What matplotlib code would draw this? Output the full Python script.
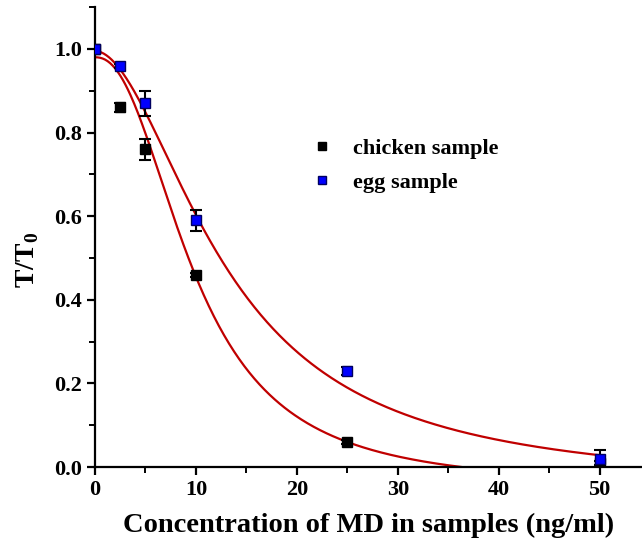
import matplotlib.pyplot as plt
import numpy as np
from matplotlib.ticker import MultipleLocator

plt.rcParams['font.family'] = 'Liberation Serif'
plt.rcParams['font.weight'] = 'bold'
plt.rcParams['mathtext.fontset'] = 'custom'
plt.rcParams['mathtext.rm'] = 'Liberation Serif:bold'
plt.rcParams['mathtext.bf'] = 'Liberation Serif:bold'

conc = [0, 2.5, 5, 10, 25, 50]
chicken = [1.0, 0.86, 0.76, 0.46, 0.06, 0.01]
chicken_err = [0.005, 0.01, 0.025, 0.005, 0.005, 0.005]
egg = [1.0, 0.96, 0.87, 0.59, 0.23, 0.02]
egg_err = [0.005, 0.005, 0.03, 0.025, 0.01, 0.02]

# logistic fit parameters (A1, A2, x0, p)
chicken_fit = (0.98, -0.05, 9.83, 2.275)
egg_fit = (0.995, -0.05, 13.12, 1.878)


def logistic(x, a1, a2, x0, p):
    return a2 + (a1 - a2) / (1 + (x / x0) ** p)


fig = plt.figure(figsize=(6.42, 5.45), dpi=100)
ax = fig.add_axes([0.148, 0.143, 0.852, 0.844])

xs = np.linspace(0, 50, 400)
ax.plot(xs, logistic(xs, *chicken_fit), color='#c00000', lw=1.6, zorder=2)
ax.plot(xs, logistic(xs, *egg_fit), color='#c00000', lw=1.6, zorder=2)

ch = ax.errorbar(conc, chicken, yerr=chicken_err, fmt='s', color='black', ms=7.5,
                 ecolor='black', elinewidth=1.5, capsize=4, capthick=1.5, zorder=3)
eg = ax.errorbar(conc, egg, yerr=egg_err, fmt='s', color='#0000ff', mec='#000060',
                 ms=7.5, ecolor='black', elinewidth=1.5, capsize=4, capthick=1.5, zorder=4)

ax.set_xlim(0, 54.2)
ax.set_ylim(0, 1.1)
ax.xaxis.set_major_locator(MultipleLocator(10))
ax.xaxis.set_minor_locator(MultipleLocator(5))
ax.yaxis.set_major_locator(MultipleLocator(0.2))
ax.yaxis.set_minor_locator(MultipleLocator(0.1))
ax.yaxis.set_major_formatter(lambda v, pos: f"{v:.1f}")

for s in ['top', 'right']:
    ax.spines[s].set_visible(False)
for s in ['left', 'bottom']:
    ax.spines[s].set_linewidth(1.6)
ax.tick_params(which='major', length=6, width=1.6, labelsize=16)
ax.tick_params(which='minor', length=4, width=1.4)

ax.set_xlabel('Concentration of MD in samples (ng/ml)', fontsize=20.5,
              fontweight='bold', labelpad=9)
ax.set_ylabel(r'T/T$_\mathbf{0}$', fontsize=20, fontweight='bold')
ax.yaxis.set_label_coords(-0.098, 0.45)

ax.legend(handles=[ch[0], eg[0]], labels=['chicken sample', 'egg sample'],
          loc='upper left', bbox_to_anchor=(0.362, 0.758), frameon=False,
          fontsize=16, handlelength=0.8, handletextpad=1.0,
          labelspacing=0.6, markerscale=0.8)

fig.savefig('out.png', dpi=100)
